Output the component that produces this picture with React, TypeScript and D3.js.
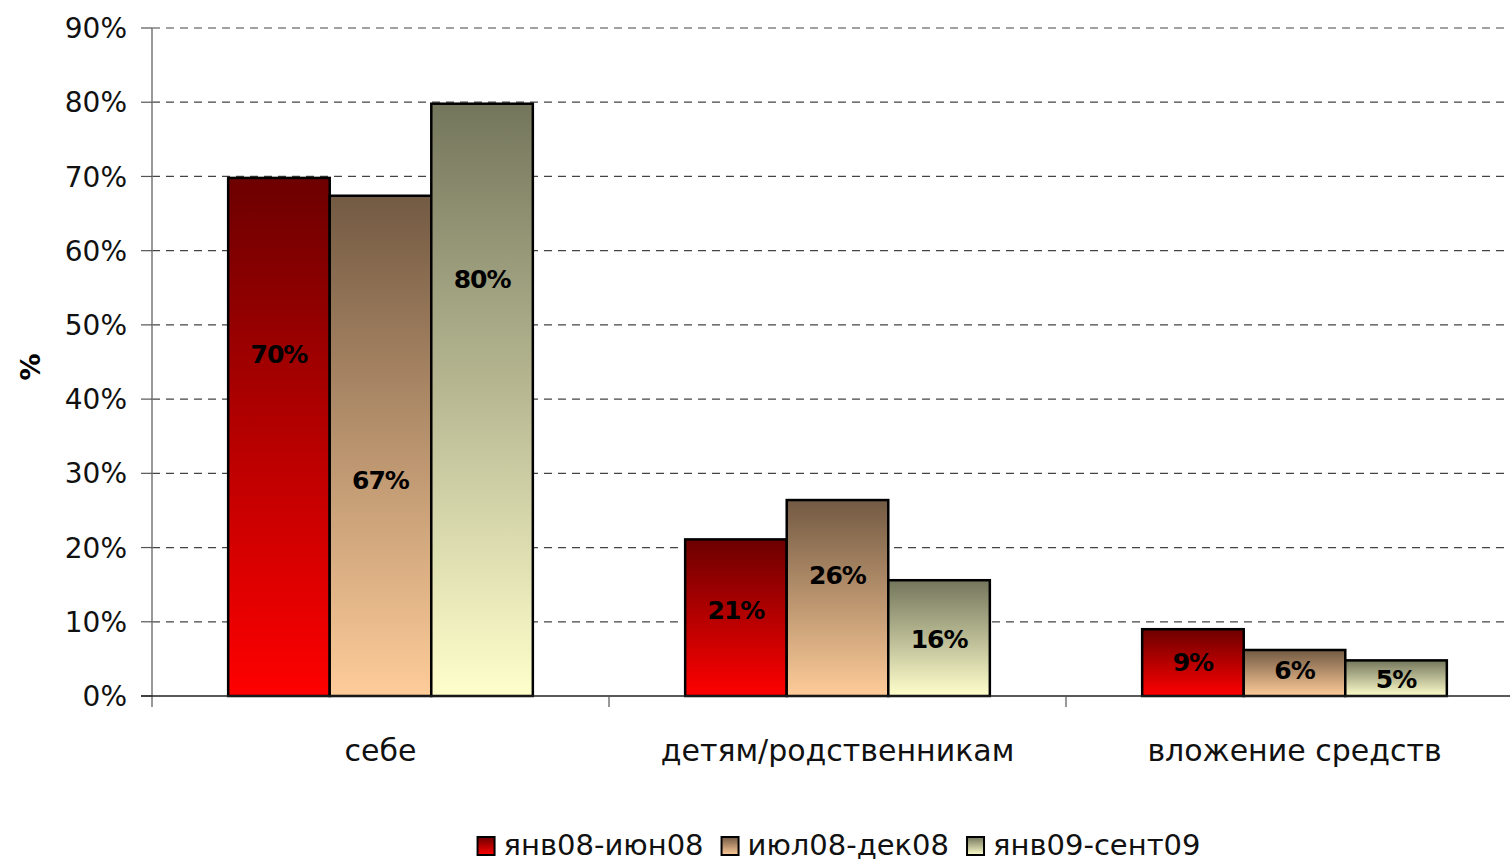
import { useEffect, useRef } from 'react';
import * as d3 from 'd3';

const CATEGORIES = ['себе', 'детям/родственникам', 'вложение средств'];
const SERIES = ['янв08-июн08', 'июл08-дек08', 'янв09-сент09'];
// values in %, one array per series (same order as CATEGORIES)
const JAN_JUN_08 = [69.8, 21.1, 9.0];
const JUL_DEC_08 = [67.4, 26.4, 6.2];
const JAN_SEP_09 = [79.8, 15.6, 4.8];
// where the value labels sit, in % units (they were placed by hand in the original)
const LABEL_AT = [
  [46.1, 11.6, 4.6],
  [29.1, 16.3, 3.5],
  [56.2, 7.7, 2.3],
];
const Y_TICKS = [0, 10, 20, 30, 40, 50, 60, 70, 80, 90];

const GRADIENTS = [
  ['#6c0000', '#ff0000'],
  ['#735a43', '#fecc99'],
  ['#74765c', '#ffffcc'],
];

const WIDTH = 1510;
const HEIGHT = 865;
const FONT = '"DejaVu Sans", sans-serif';

export default function App() {
  const ref = useRef<SVGSVGElement | null>(null);

  useEffect(() => {
    if (!ref.current) return;
    const svg = d3.select(ref.current);
    svg.selectAll('*').remove();

    const values = [JAN_JUN_08, JUL_DEC_08, JAN_SEP_09];
    const left = 152;
    const right = 1523; // plot area runs a little past the picture's edge
    const top = 28;
    const bottom = 696;

    const y = d3.scaleLinear().domain([0, 90]).range([bottom, top]);
    const x0 = d3
      .scaleBand<string>()
      .domain(CATEGORIES)
      .range([left, right])
      .paddingInner(1 / 3)
      .paddingOuter(1 / 6);
    const x1 = d3.scaleBand<number>().domain([0, 1, 2]).range([0, x0.bandwidth()]);

    const defs = svg.append('defs');
    GRADIENTS.forEach(([c0, c1], i) => {
      const g = defs
        .append('linearGradient')
        .attr('id', `grad${i}`)
        .attr('x1', 0)
        .attr('y1', 0)
        .attr('x2', 0)
        .attr('y2', 1);
      g.append('stop').attr('offset', '0%').attr('stop-color', c0);
      g.append('stop').attr('offset', '100%').attr('stop-color', c1);
    });

    // grid
    svg
      .append('g')
      .selectAll('line')
      .data(Y_TICKS.filter(t => t > 0))
      .join('line')
      .attr('x1', left)
      .attr('x2', right)
      .attr('y1', d => y(d))
      .attr('y2', d => y(d))
      .attr('stroke', '#444')
      .attr('stroke-width', 1.2)
      .attr('stroke-dasharray', '8,6');

    // y axis
    svg
      .append('line')
      .attr('x1', left)
      .attr('x2', left)
      .attr('y1', top)
      .attr('y2', bottom + 11)
      .attr('stroke', '#777')
      .attr('stroke-width', 1.5);
    svg
      .append('g')
      .selectAll('line')
      .data(Y_TICKS)
      .join('line')
      .attr('x1', left - 11)
      .attr('x2', left)
      .attr('y1', d => y(d))
      .attr('y2', d => y(d))
      .attr('stroke', '#555')
      .attr('stroke-width', 1.2);
    svg
      .append('g')
      .selectAll('text')
      .data(Y_TICKS)
      .join('text')
      .attr('x', 127)
      .attr('y', d => y(d))
      .attr('dy', '0.36em')
      .attr('text-anchor', 'end')
      .style('font-family', FONT)
      .style('font-size', '28px')
      .attr('fill', '#111')
      .text(d => `${d}%`);

    svg
      .append('text')
      .attr('transform', `translate(30,${(top + bottom) / 2 + 5}) rotate(-90)`)
      .attr('text-anchor', 'middle')
      .attr('dy', '0.36em')
      .style('font-family', FONT)
      .style('font-size', '27px')
      .style('font-weight', 700)
      .text('%');

    // bars
    values.forEach((vals, s) => {
      svg
        .append('g')
        .selectAll('rect')
        .data(vals)
        .join('rect')
        .attr('x', (d, i) => (x0(CATEGORIES[i]) ?? 0) + (x1(s) ?? 0))
        .attr('y', d => y(d))
        .attr('width', x1.bandwidth())
        .attr('height', d => bottom - y(d))
        .attr('fill', `url(#grad${s})`)
        .attr('stroke', '#000')
        .attr('stroke-width', 2.5);
    });

    // x axis
    svg
      .append('line')
      .attr('x1', left - 11)
      .attr('x2', right)
      .attr('y1', bottom)
      .attr('y2', bottom)
      .attr('stroke', '#222')
      .attr('stroke-width', 1.5);
    svg
      .append('g')
      .selectAll('line')
      .data(CATEGORIES.slice(1))
      .join('line')
      .attr('x1', d => (x0(d) ?? 0) - (x0.step() - x0.bandwidth()) / 2)
      .attr('x2', d => (x0(d) ?? 0) - (x0.step() - x0.bandwidth()) / 2)
      .attr('y1', bottom)
      .attr('y2', bottom + 11)
      .attr('stroke', '#555')
      .attr('stroke-width', 1.2);
    svg
      .append('g')
      .selectAll('text')
      .data(CATEGORIES)
      .join('text')
      .attr('x', d => (x0(d) ?? 0) + x0.bandwidth() / 2)
      .attr('y', 750)
      .attr('dy', '0.36em')
      .attr('text-anchor', 'middle')
      .style('font-family', FONT)
      .style('font-size', '30px')
      .attr('fill', '#111')
      .text(d => d);

    // value labels
    values.forEach((vals, s) => {
      svg
        .append('g')
        .selectAll('text')
        .data(vals)
        .join('text')
        .attr('x', (d, i) => (x0(CATEGORIES[i]) ?? 0) + (x1(s) ?? 0) + x1.bandwidth() / 2)
        .attr('y', (d, i) => y(LABEL_AT[s][i]))
        .attr('dy', '0.36em')
        .attr('text-anchor', 'middle')
        .style('font-family', FONT)
        .style('font-size', '25px')
        .style('font-weight', 700)
        .style('letter-spacing', '-1px')
        .attr('fill', '#000')
        .text(d => `${Math.round(d)}%`);
    });

    // legend
    const legend = svg.append('g');
    let cx = 0;
    SERIES.forEach((name, i) => {
      const g = legend.append('g').attr('transform', `translate(${cx},0)`);
      g.append('rect')
        .attr('x', 1)
        .attr('y', -8)
        .attr('width', 17)
        .attr('height', 18)
        .attr('fill', `url(#grad${i})`)
        .attr('stroke', '#000')
        .attr('stroke-width', 2);
      const t = g
        .append('text')
        .attr('x', 27)
        .attr('dy', '0.36em')
        .style('font-family', FONT)
        .style('font-size', '29px')
        .attr('fill', '#111')
        .text(name);
      const w = (t.node() as SVGTextElement).getComputedTextLength();
      cx += 27 + w + 17;
    });
    const total = cx - 17;
    legend.attr('transform', `translate(${(470 + 1207) / 2 - total / 2},845)`);
  }, []);

  return (
    <svg
      ref={ref}
      width={WIDTH}
      height={HEIGHT}
      viewBox={`0 0 ${WIDTH} ${HEIGHT}`}
      style={{ position: 'absolute', left: 0, top: 0, background: '#fff' }}
    />
  );
}
